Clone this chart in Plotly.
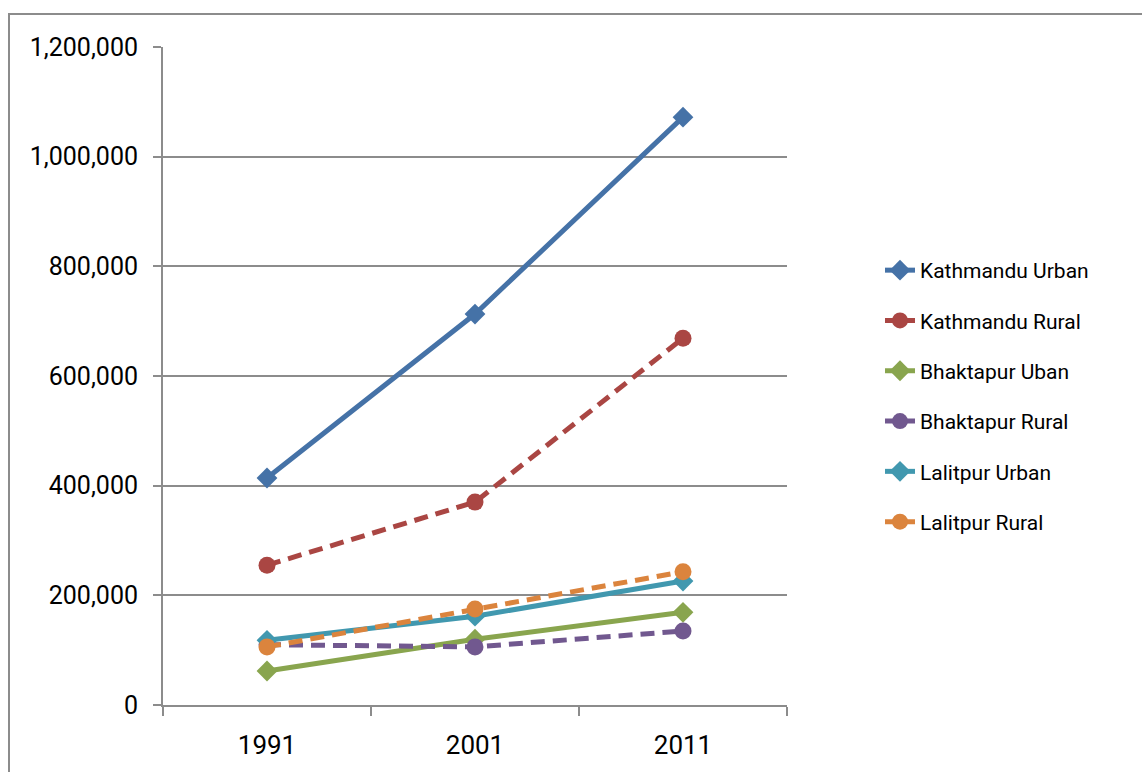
import plotly.graph_objects as go

years = ["1991", "2001", "2011"]
kathmandu_urban = [414000, 713000, 1072000]
kathmandu_rural = [255000, 370000, 669000]
bhaktapur_urban = [62000, 120000, 169000]
bhaktapur_rural = [110000, 106000, 135000]
lalitpur_urban = [118000, 162000, 226000]
lalitpur_rural = [106000, 175000, 243000]

series = [
    ("Kathmandu Urban", kathmandu_urban, "#4572A7", "solid", "diamond"),
    ("Kathmandu Rural", kathmandu_rural, "#AA4643", "14px,8px", "circle"),
    ("Bhaktapur Uban", bhaktapur_urban, "#89A54E", "solid", "diamond"),
    ("Bhaktapur Rural", bhaktapur_rural, "#71588F", "14px,8px", "circle"),
    ("Lalitpur Urban", lalitpur_urban, "#4198AF", "solid", "diamond"),
    ("Lalitpur Rural", lalitpur_rural, "#DB843D", "14px,8px", "circle"),
]

fig = go.Figure()
for i, (name, vals, color, dash, sym) in enumerate(series):
    fig.add_trace(go.Scatter(
        x=years, y=vals, name=name, mode="lines+markers",
        line=dict(color=color, width=5, dash=dash),
        marker=dict(symbol=sym, size=16 if sym == "diamond" else 17, color=color),
        legendgroup="g%d" % i,
    ))

W, H = 1142, 772
L, R, T, B = 163, 787, 47, 705
pw, ph = R - L, B - T

def px(x):
    return (x - L) / pw

def py(y):
    return (B - y) / ph

grid = "#8c8c8c"
fig.update_layout(
    width=W, height=H,
    margin=dict(l=L, r=W - R, t=T, b=H - B),
    paper_bgcolor="white", plot_bgcolor="white",
    font=dict(family="Roboto", color="black"),
    showlegend=True,
    legend=dict(
        x=px(880), xanchor="left", y=py(396), yanchor="middle",
        font=dict(size=21, family="Roboto", color="black"),
        traceorder="grouped", tracegroupgap=20,
        bgcolor="rgba(0,0,0,0)",
    ),
    xaxis=dict(
        type="category", range=[-0.5, 2.5], tickson="boundaries",
        showline=True, linecolor=grid, linewidth=2,
        ticks="outside", ticklen=9, tickcolor=grid, tickwidth=2,
        showgrid=False, zeroline=False,
        tickfont=dict(size=26, family="Roboto", color="black"),
        ticklabelstandoff=16,
    ),
    yaxis=dict(
        range=[0, 1200000], dtick=200000, tickformat=",",
        showline=True, linecolor=grid, linewidth=2,
        ticks="outside", ticklen=8, tickcolor=grid, tickwidth=2,
        showgrid=True, gridcolor=grid, gridwidth=2,
        zeroline=False,
        tickfont=dict(size=25, family="Roboto", color="black"),
        ticklabelstandoff=10,
    ),
    shapes=[dict(
        type="rect", xref="paper", yref="paper",
        x0=px(9), x1=px(1160), y0=py(790), y1=py(14),
        line=dict(color=grid, width=2), fillcolor="rgba(0,0,0,0)", layer="below",
    )],
)

fig.write_html("out.html")
